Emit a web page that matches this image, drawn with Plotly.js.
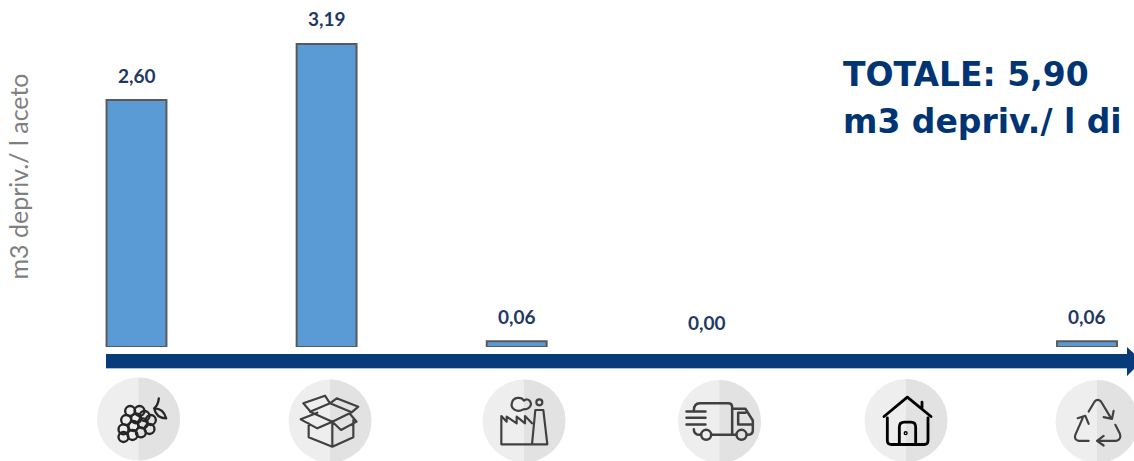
<!DOCTYPE html>
<html>
<head>
<meta charset="utf-8">
<script src="https://cdn.plot.ly/plotly-3.0.1.min.js"></script>
<style>html,body{margin:0;padding:0;background:#fff;overflow:hidden}#chart{width:1134px;height:461px}</style>
</head>
<body>
<div id="chart"></div>
<script>
// Life-cycle stages and their water deprivation values
const stages = ["Uva", "Imballaggio", "Produzione", "Trasporto", "Uso", "Fine vita"];
const values = [2.60, 3.19, 0.06, 0.00, null, 0.06];
const outlineWidths = [2, 2, 2, 0, 0, 2];
const yTitle = "m3 depriv./ l aceto";
const totalLines = ["TOTALE: 5,90", "m3 depriv./ l di"];

const W = 1134, H = 461, LEFT = 55, TOP = 6, BASE = 347;
const paperX = px => (px - LEFT) / (W - LEFT);
const paperY = py => (BASE - py) / (BASE - TOP);

// Line icons, drawn on a 3x grid centred on each badge
const iconCentres = [[175,237],[750,243],[192,273],[777,273],[168,270],[740,275]];
const iconInk = ["#262626","#404040","#404040","#404040","#000000","#404040"];
const iconStroke = [7,6.5,6.5,7.5,8.5,6.5];
const iconShapes = [
  // grapes
  [[150,213],[178,213],[138,240],[168,235],[193,228],[130,268],[160,258],[188,250],[212,240],[130,291],[157,285],[182,277],[208,267]]
    .map(c => `<circle cx="${c[0]}" cy="${c[1]}" r="15"/>`).join("") +
    `<path d="M222,205 Q234,195 236,175 M222,205 Q250,205 258,235 Q228,235 222,205"/>`,
  // open box
  `<path d="M686,250 L686,292 L757,320 L820,292 L820,240 M757,320 L757,245 M757,245 L712,265 L662,238 L712,218 M757,245 L783,270 L830,245 L810,222 M690,213 L670,190 L735,167 L750,190 M750,190 L770,175 L835,200 L815,217 M690,215 L750,190 L815,217 L757,245 Z"/>`,
  // factory
  `<path d="M124,343 L124,258 L140,275 L140,260 L170,280 L170,260 L195,280 L195,258 L216,280 M124,343 L262,343 L250,240 L226,240 L216,343"/><path d="M190,238 C170,250 150,235 156,218 C160,200 185,200 192,212 C205,200 220,220 208,232 C203,238 195,238 190,238"/><circle cx="238" cy="217" r="9"/>`,
  // delivery truck
  `<path d="M700,240 Q700,218 718,218 L803,218 Q815,218 815,230 L815,313 M700,296 Q700,313 718,313 M752,313 L826,313 M678,243 L735,243 M678,262 L735,262 M678,282 L735,282 M815,235 L855,235 L877,270 L877,300 Q877,313 860,313 M833,247 L833,282 L877,282 M833,247 L855,247"/><circle cx="737" cy="313" r="15"/><circle cx="843" cy="313" r="15"/>`,
  // house
  `<path d="M102,258 L172,200 L243,258 M216,215 L216,236 M112,262 L112,330 Q112,342 125,342 L222,342 Q234,342 234,330 L234,262 M148,342 L148,290 Q148,275 163,275 L183,275 Q197,275 197,290 L197,342"/><circle cx="167" cy="308" r="2"/>`,
  // recycling arrows
  `<path d="M715,245 L733,215 Q742,205 752,215 L782,265 M760,262 L785,267 L790,243 M715,333 L685,333 Q670,330 675,315 L697,265 M682,265 L705,258 L715,282 M742,333 L798,333 Q815,328 808,310 L795,285 M760,318 L740,333 L760,347"/>`
];
const badgeCentres = [[138.5,419],[330,421],[524,421],[719.5,421.5],[906,420.5],[1097,421.5]];

function badge(i) {
  const [cx, cy] = iconCentres[i];
  const svg = `<svg xmlns="http://www.w3.org/2000/svg" width="84" height="84" viewBox="0 0 84 84">` +
    `<circle cx="42" cy="42" r="41.5" fill="#eeeeee"/>` +
    `<path d="M42,0.5 A41.5,41.5 0 0 1 42,83.5 Z" fill="#e2e2e2"/>` +
    `<g transform="translate(42 42) scale(0.3333) translate(${-cx} ${-cy})" fill="none" stroke="${iconInk[i]}" ` +
    `stroke-width="${iconStroke[i]}" stroke-linecap="round" stroke-linejoin="round">${iconShapes[i]}</g></svg>`;
  return {
    source: "data:image/svg+xml;charset=utf-8," + encodeURIComponent(svg),
    xref: "paper", yref: "paper",
    x: paperX(badgeCentres[i][0] - 42), y: paperY(badgeCentres[i][1] - 42),
    sizex: 84 / (W - LEFT), sizey: 84 / (BASE - TOP),
    xanchor: "left", yanchor: "top", sizing: "stretch", layer: "above"
  };
}

const valueLabels = values.map((v, i) => v === null ? null : {
  x: stages[i], y: v, xref: "x", yref: "y",
  text: "<b>" + v.toFixed(2).replace(".", ",") + "</b>",
  showarrow: false, yshift: 25, xanchor: "center", yanchor: "middle",
  font: {family: "Lato, sans-serif", size: 19, color: "#1f3864"}
}).filter(Boolean);

const totalLabels = totalLines.map((line, i) => ({
  xref: "paper", yref: "paper", x: paperX(841), y: paperY(74 + i * 47),
  text: "<b>" + line + "</b>", showarrow: false, xanchor: "left", yanchor: "middle",
  font: {family: "DejaVu Sans, sans-serif", size: 33, color: "#003473"}
}));

const arrow = "M" + paperX(106) + "," + paperY(354) + " L" + paperX(1127) + "," + paperY(354) +
  " L" + paperX(1127) + "," + paperY(347) + " L" + paperX(1142) + "," + paperY(361) +
  " L" + paperX(1127) + "," + paperY(376) + " L" + paperX(1127) + "," + paperY(368) +
  " L" + paperX(106) + "," + paperY(368) + " Z";

Plotly.newPlot("chart", [{
  type: "bar", x: stages, y: values, width: 0.315,
  marker: {color: "#5b9bd5", line: {color: "#595959", width: outlineWidths}},
  hoverinfo: "skip"
}], {
  width: W, height: H, showlegend: false,
  margin: {l: LEFT, r: 0, t: TOP, b: H - BASE, pad: 0},
  paper_bgcolor: "#ffffff", plot_bgcolor: "#ffffff",
  xaxis: {type: "category", categoryorder: "array", categoryarray: stages,
    range: [(LEFT - 136.5) / 190.1, (W - 136.5) / 190.1],
    showticklabels: false, ticks: "", showgrid: false, zeroline: false, showline: false},
  yaxis: {range: [0, (BASE - TOP) / 95], showticklabels: false, ticks: "", showgrid: false,
    zeroline: false, showline: false, automargin: true,
    title: {text: yTitle, standoff: 18, font: {family: "Lato, sans-serif", size: 25, color: "#7f7f7f"}}},
  shapes: [
    {type: "line", xref: "paper", yref: "paper", x0: paperX(106), x1: paperX(1127),
     y0: paperY(368.5), y1: paperY(368.5), line: {color: "#a9bfdb", width: 1}},
    {type: "path", xref: "paper", yref: "paper", path: arrow,
     fillcolor: "#083b7a", line: {width: 0}, layer: "above"}
  ],
  annotations: valueLabels.concat(totalLabels),
  images: stages.map((_, i) => badge(i))
}, {staticPlot: true, displayModeBar: false});
</script>
</body>
</html>
